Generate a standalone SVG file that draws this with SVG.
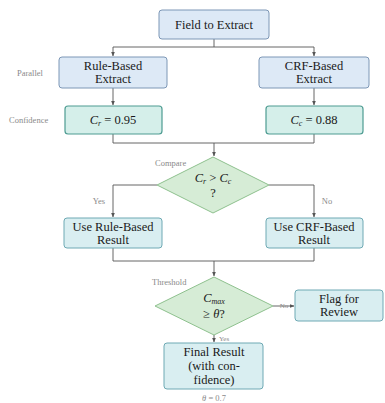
<svg xmlns="http://www.w3.org/2000/svg" width="385" height="403" viewBox="0 0 385 403">
<defs>
<marker id="ah" viewBox="0 0 6 6" refX="5.5" refY="3" markerWidth="5" markerHeight="5" orient="auto">
<path d="M0,0.5 L6,3 L0,5.5 Z" fill="#555"/>
</marker>
<style>
text{font-family:"Liberation Serif","DejaVu Serif",serif;fill:#1a1a1a;}
.t{font-size:12.5px;text-anchor:middle;}
.lab{font-size:8.5px;fill:#8a8a8a;}
.sm{font-size:7px;fill:#8a8a8a;}
.blue{fill:#dde9f6;stroke:#7d97b6;stroke-width:1;}
.teal{fill:#d5efea;stroke:#4e9c92;stroke-width:1.2;}
.cyan{fill:#d9eef1;stroke:#6ea9b4;stroke-width:1;}
.dia{fill:#d6ecd6;stroke:#8ec18e;stroke-width:1;}
.c{fill:none;stroke:#555;stroke-width:0.9;}
</style>
</defs>
<rect width="385" height="403" fill="#fff"/>
<g id="connectors">
<path class="c" d="M214,39 V47 H113 V56" marker-end="url(#ah)"/>
<path class="c" d="M214,47 H314 V56" marker-end="url(#ah)"/>
<path class="c" d="M113,88 V105" marker-end="url(#ah)"/>
<path class="c" d="M314,88 V105" marker-end="url(#ah)"/>
<path class="c" d="M113,134 V143 H314 V134"/>
<path class="c" d="M214,143 V156" marker-end="url(#ah)"/>
<path class="c" d="M157,185 H113 V217" marker-end="url(#ah)"/>
<path class="c" d="M269,185 H314 V217" marker-end="url(#ah)"/>
<path class="c" d="M113,248 V261 H314 V248"/>
<path class="c" d="M214,261 V276" marker-end="url(#ah)"/>
<path class="c" d="M273,306 H294" marker-end="url(#ah)"/>
<path class="c" d="M214,335 V342" marker-end="url(#ah)"/>
<text class="sm" x="284" y="308" text-anchor="middle">No</text>
<text class="sm" x="219" y="341">Yes</text>
<text class="lab" x="99" y="204" text-anchor="middle">Yes</text>
<text class="lab" x="327" y="204" text-anchor="middle">No</text>
</g>
<g id="field"><rect class="blue" x="159" y="10" width="110" height="29" rx="3"/><text class="t" x="214" y="29">Field to Extract</text></g>
<g id="rule"><rect class="blue" x="59" y="57" width="108" height="31" rx="3"/><text class="t" x="113" y="70">Rule-Based</text><text class="t" x="113" y="83">Extract</text></g>
<g id="crf"><rect class="blue" x="259" y="57" width="110" height="31" rx="3"/><text class="t" x="314" y="70">CRF-Based</text><text class="t" x="314" y="83">Extract</text></g>
<text class="lab" x="17" y="76">Parallel</text>
<g id="cr"><rect class="teal" x="65" y="106" width="97" height="28" rx="3"/><text class="t" x="113" y="124"><tspan font-style="italic">C</tspan><tspan font-size="8" font-style="italic" dy="2">r</tspan><tspan dy="-2"> = 0.95</tspan></text></g>
<g id="cc"><rect class="teal" x="266" y="106" width="97" height="28" rx="3"/><text class="t" x="314" y="124"><tspan font-style="italic">C</tspan><tspan font-size="8" font-style="italic" dy="2">c</tspan><tspan dy="-2"> = 0.88</tspan></text></g>
<text class="lab" x="9" y="123">Confidence</text>
<g id="compare"><polygon class="dia" points="213,157 269,185 213,213 157,185"/><text class="t" x="213" y="182"><tspan font-style="italic">C</tspan><tspan font-size="8" font-style="italic" dy="2">r</tspan><tspan dy="-2"> &gt; </tspan><tspan font-style="italic">C</tspan><tspan font-size="8" font-style="italic" dy="2">c</tspan></text><text class="t" x="213" y="197">?</text></g>
<text class="lab" x="155" y="166">Compare</text>
<g id="userule"><rect class="cyan" x="64" y="218" width="98" height="30" rx="3"/><text class="t" x="113" y="231">Use Rule-Based</text><text class="t" x="113" y="244">Result</text></g>
<g id="usecrf"><rect class="cyan" x="266" y="218" width="97" height="30" rx="3"/><text class="t" x="314" y="231">Use CRF-Based</text><text class="t" x="314" y="244">Result</text></g>
<g id="threshold"><polygon class="dia" points="214,277 273,306 214,335 155,306"/><text class="t" x="214" y="302"><tspan font-style="italic">C</tspan><tspan font-size="8" font-style="italic" dy="2">max</tspan></text><text class="t" x="214" y="318">≥ <tspan font-style="italic">θ</tspan>?</text></g>
<text class="lab" x="152" y="285">Threshold</text>
<g id="flag"><rect class="cyan" x="295" y="290" width="88" height="31" rx="3"/><text class="t" x="339" y="303">Flag for</text><text class="t" x="339" y="316">Review</text></g>
<g id="final"><rect class="cyan" x="164" y="343" width="99" height="46" rx="3"/><text class="t" x="214" y="356">Final Result</text><text class="t" x="214" y="370">(with con-</text><text class="t" x="214" y="384">fidence)</text></g>
<text class="lab" x="214" y="401" text-anchor="middle"><tspan font-style="italic">θ</tspan> = 0.7</text>
</svg>
